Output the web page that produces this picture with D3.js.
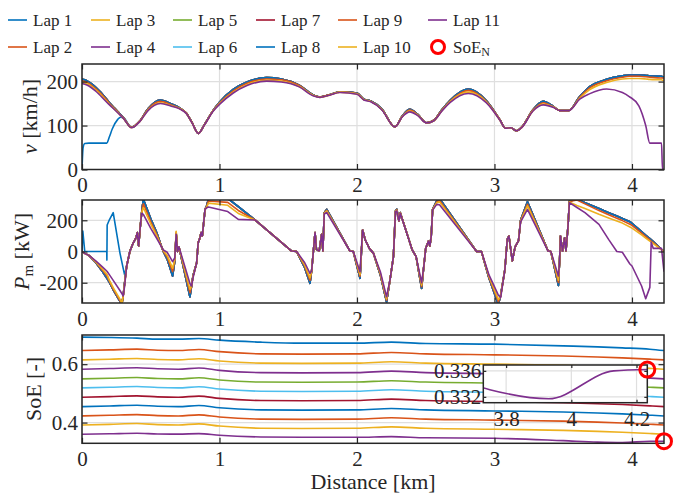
<!DOCTYPE html>
<html>
<head>
<meta charset="utf-8">
<title>Lap profiles: speed, power, SoE</title>
<style>
    body { margin: 0; background: #fff; }
    svg, svg text { font-family: "Liberation Serif", "DejaVu Serif", "Times New Roman", serif; }
    .grid line { stroke: #dfdfdf; stroke-width: 1.2; }
    .frame { fill: none; stroke: #262626; stroke-width: 1.5; }
    .lap { fill: none; stroke-width: 1.6; stroke-linejoin: round; }
    .marker { fill: none; stroke: #ff0000; stroke-width: 3; }
    .axlabel { font-size: 22px; fill: #262626; }
    .legend text { font-size: 17px; fill: #262626; }
</style>
</head>
<body>
<script src="https://cdn.jsdelivr.net/npm/d3@7"></script>
<script>

// ---- data ----
var lapNames = ["Lap 1","Lap 2","Lap 3","Lap 4","Lap 5","Lap 6","Lap 7","Lap 8","Lap 9","Lap 10","Lap 11"];

var xTicks = [0, 1, 2, 3, 4];
var vTicks = [0, 100, 200];
var pTicks = [-200, 0, 200];
var soeTicks = [0.4, 0.6];
var insetXTicks = [3.8, 4, 4.2];
var insetYTicks = [0.332, 0.336];

// speed [km/h]
var vDist = [0, 0.008, 0.02, 0.05, 0.1, 0.18, 0.2, 0.22, 0.26, 0.28, 0.3, 0.36, 0.42, 0.48, 0.57, 0.65, 0.71, 0.76, 0.8, 0.846,
    0.89, 0.955, 1.0, 1.1, 1.2, 1.343, 1.45, 1.58, 1.68, 1.73, 1.8, 1.876, 2.0, 2.05, 2.1, 2.18, 2.276, 2.33, 2.385, 2.44,
    2.507, 2.56, 2.62, 2.676, 2.81, 2.94, 3.04, 3.08, 3.12, 3.16, 3.2, 3.28, 3.355, 3.43, 3.476, 3.54, 3.62, 3.69, 3.816, 3.93,
    3.98, 4.05, 4.1, 4.13, 4.215, 4.222, 4.233];
var vLap1Start = [0, 50, 59, 60, 60, 60, 75, 92, 114, 119, 118];
var vLaps2to8 = [206, 205, 204, 199, 187, 160, 152, 145, 132, 125, 118, 96, 110, 138, 158, 149, 140, 128, 107, 82,
    102, 135, 153, 182, 199, 209, 206, 192, 170, 165, 170, 177, 174, 160, 156, 138, 97, 122, 137, 126,
    106, 112, 137, 157, 183, 157, 113, 94, 95, 88, 97, 136, 155, 143, 134, 134, 166, 188, 205, 213,
    215, 215, 214, 213, 212, 211, 211];
var vLap9 = [203, 201, 200, 196, 184, 158, 150, 144, 131, 124, 118, 96, 110, 137, 155, 147, 139, 128, 107, 82,
    102, 134, 151, 179, 196, 206, 204, 191, 169, 165, 170, 176, 173, 159, 155, 137, 97, 121, 135, 125,
    106, 112, 136, 155, 180, 155, 113, 94, 95, 88, 97, 135, 152, 142, 134, 134, 164, 185, 202, 210,
    212, 212, 211, 210, 208, 208, 207];
var vLap10 = [199, 198, 197, 193, 181, 155, 148, 142, 130, 123, 117, 95, 109, 135, 152, 145, 139, 127, 106, 82,
    101, 134, 150, 176, 193, 203, 201, 189, 169, 164, 169, 176, 172, 159, 155, 137, 97, 121, 133, 124,
    106, 111, 135, 154, 176, 154, 112, 94, 95, 88, 96, 134, 149, 142, 134, 134, 162, 181, 198, 206,
    207, 207, 206, 205, 204, 203, 203];
var vLap11 = [196, 195, 194, 190, 178, 153, 147, 141, 129, 123, 117, 95, 109, 134, 150, 144, 138, 127, 106, 82,
    101, 133, 148, 174, 191, 201, 199, 188, 168, 164, 169, 175, 171, 158, 154, 136, 97, 120, 131, 123,
    106, 111, 134, 152, 173, 152, 112, 94, 95, 88, 96, 133, 147, 141, 134, 134, 160, 172, 183, 175,
    166, 145, 100, 60, 60, 0, 0];

// motor power [kW]
var pDist = [0, 0.006, 0.02, 0.05, 0.1, 0.15, 0.18, 0.181, 0.183, 0.2,
    0.227, 0.276, 0.29, 0.3, 0.31, 0.325, 0.349, 0.373, 0.393, 0.402,
    0.412, 0.422, 0.434, 0.446, 0.5, 0.543, 0.591, 0.62, 0.659, 0.675,
    0.685, 0.695, 0.705, 0.785, 0.797, 0.807, 0.834, 0.845, 0.858, 0.866,
    0.875, 0.895, 0.907, 0.92, 1.06, 1.137, 1.258, 1.525, 1.561, 1.62,
    1.658, 1.67, 1.695, 1.705, 1.725, 1.743, 1.752, 1.762, 1.78, 1.949,
    1.973, 2.022, 2.041, 2.06, 2.09, 2.12, 2.17, 2.215, 2.24, 2.265,
    2.28, 2.29, 2.305, 2.315, 2.4, 2.43, 2.47, 2.485, 2.5, 2.52,
    2.53, 2.54, 2.55, 2.58, 2.6, 2.87, 2.905, 2.96, 3.028, 3.045,
    3.076, 3.093, 3.105, 3.13, 3.15, 3.175, 3.19, 3.24, 3.39, 3.41,
    3.465, 3.473, 3.48, 3.495, 3.51, 3.52, 3.535, 3.545, 3.6, 3.658,
    3.76, 3.83, 3.89, 3.93, 3.985, 4.0, 4.07, 4.1, 4.13, 4.14,
    4.155, 4.215, 4.233];
var pLap1Start = [0, 131, 0, 0, 0, 0, 0, -55, 170, 205, 249, -10, -68, -110, -150];
var pLaps2to8 = [0, -4, -12, -25, -70, -130, -170, -171, -173, -200,
    -245, -320, -340, -280, -200, -93, 3, 56, 88, 121,
    35, 142, 249, 335, 210, 121, 0, -50, -157, -60,
    115, 0, 30, -290, -220, -157, -72, 56, 88, 121,
    100, 270, 292, 340, 340, 287, 202, 3, 0, -104,
    -204, -125, 121, 14, 3, 110, 3, 249, 270, 3,
    0, -172, 138, 74, 20, -12, -150, -322, -183, -33,
    260, 270, 196, 249, 14, -33, -236, -104, 20, 67,
    35, 99, 270, 324, 340, 0, 0, -170, -340, -280,
    -114, 78, 99, -60, 30, 70, 200, 318, 3, 0,
    -217, -72, 99, 3, 88, 3, 163, 323, 335, 313,
    275, 249, 227, 212, 191, 180, 127, 104, 82, 74,
    63, 14, 0];
var pLap9 = [0, -4, -12, -25, -67, -121, -156, -157, -159, -192,
    -240, -315, -338, -282, -206, -93, 3, 56, 88, 121,
    35, 142, 248, 306, 192, 110, 3, -37, -129, -54,
    125, 0, 30, -264, -220, -161, -72, 56, 88, 121,
    100, 270, 288, 324, 315, 263, 202, 3, 0, -94,
    -185, -125, 121, 14, 3, 110, 3, 246, 264, 3,
    0, -159, 138, 74, 20, -12, -144, -312, -183, -33,
    258, 267, 196, 248, 14, -33, -225, -104, 20, 67,
    35, 99, 268, 317, 328, 0, 0, -164, -322, -285,
    -114, 78, 99, -60, 30, 70, 197, 304, 3, 0,
    -199, -72, 99, 3, 88, 3, 163, 320, 330, 305,
    262, 236, 213, 198, 175, 168, 117, 96, 74, 67,
    57, 12, 0];
var pLap10 = [0, -4, -12, -25, -65, -113, -145, -146, -148, -185,
    -232, -305, -332, -283, -211, -93, 3, 56, 88, 121,
    35, 142, 247, 282, 176, 101, 6, -25, -107, -49,
    130, 0, 30, -243, -220, -164, -72, 56, 88, 121,
    100, 270, 285, 310, 296, 244, 202, 3, 0, -86,
    -169, -125, 121, 14, 3, 110, 3, 244, 259, 3,
    0, -148, 138, 74, 20, -12, -139, -304, -183, -33,
    257, 264, 196, 247, 14, -33, -216, -104, 20, 67,
    35, 99, 267, 312, 318, 0, 0, -159, -307, -288,
    -114, 78, 99, -60, 30, 70, 194, 292, 3, 0,
    -184, -72, 99, 3, 88, 3, 163, 317, 295, 275,
    238, 215, 195, 182, 157, 150, 106, 86, 66, 60,
    50, 10, 0];
var pLap11 = [0, -4, -12, -25, -60, -100, -125, -126, -128, -150,
    -185, -250, -270, -285, -220, -93, 3, 56, 88, 121,
    35, 142, 245, 238, 148, 85, 10, -5, -65, -40,
    110, 0, 30, -205, -221, -170, -72, 56, 88, 121,
    100, 270, 280, 285, 256, 206, 202, 3, 0, -72,
    -140, -125, 121, 14, 3, 110, 3, 240, 250, 3,
    0, -129, 138, 74, 20, -12, -130, -290, -183, -33,
    255, 260, 196, 245, 14, -33, -200, -104, 20, 67,
    35, 99, 265, 302, 300, 0, 0, -150, -280, -295,
    -114, 78, 99, -60, 30, 70, 190, 270, 3, 0,
    -157, -72, 99, 3, 88, 3, 163, 313, 282, 249,
    174, 78, 0, -5, -80, -93, -221, -302, -230, 60,
    20, 20, -130];

// state of energy [-]
var soeDist = [0, 0.2, 0.4, 0.55, 0.7, 0.85, 1.0, 1.3, 1.6, 2.0, 2.25, 2.5, 3.0, 3.5, 3.75, 3.93, 4.13, 4.233];
var soeLaps = [
    [0.6926, 0.6915, 0.6892, 0.6857, 0.6857, 0.6880, 0.6823, 0.6755, 0.6720, 0.6720, 0.6755, 0.6709, 0.6686, 0.6629, 0.6594, 0.6560, 0.6514, 0.6467],
    [0.6467, 0.6489, 0.6515, 0.6480, 0.6467, 0.6505, 0.6429, 0.6355, 0.6346, 0.6355, 0.6403, 0.6355, 0.6320, 0.6282, 0.6247, 0.6218, 0.6174, 0.6148],
    [0.6148, 0.6170, 0.6196, 0.6161, 0.6148, 0.6186, 0.6110, 0.6036, 0.6027, 0.6036, 0.6084, 0.6036, 0.6001, 0.5963, 0.5928, 0.5899, 0.5855, 0.5829],
    [0.5829, 0.5852, 0.5879, 0.5842, 0.5829, 0.5869, 0.5789, 0.5712, 0.5702, 0.5712, 0.5762, 0.5712, 0.5676, 0.5636, 0.5599, 0.5569, 0.5523, 0.5496],
    [0.5496, 0.5518, 0.5542, 0.5508, 0.5496, 0.5533, 0.5459, 0.5388, 0.5379, 0.5388, 0.5434, 0.5388, 0.5354, 0.5317, 0.5283, 0.5255, 0.5212, 0.5187],
    [0.5187, 0.5209, 0.5235, 0.5200, 0.5187, 0.5225, 0.5149, 0.5075, 0.5066, 0.5075, 0.5123, 0.5075, 0.5040, 0.5002, 0.4967, 0.4938, 0.4894, 0.4868],
    [0.4868, 0.4890, 0.4916, 0.4881, 0.4868, 0.4907, 0.4829, 0.4755, 0.4746, 0.4755, 0.4804, 0.4755, 0.4720, 0.4681, 0.4646, 0.4617, 0.4572, 0.4546],
    [0.4546, 0.4568, 0.4594, 0.4559, 0.4546, 0.4584, 0.4508, 0.4434, 0.4425, 0.4434, 0.4482, 0.4434, 0.4399, 0.4361, 0.4326, 0.4297, 0.4253, 0.4227],
    [0.4227, 0.4249, 0.4273, 0.4239, 0.4227, 0.4264, 0.4190, 0.4119, 0.4110, 0.4119, 0.4165, 0.4119, 0.4085, 0.4048, 0.4014, 0.3986, 0.3943, 0.3918],
    [0.3918, 0.3940, 0.3966, 0.3931, 0.3918, 0.3956, 0.3880, 0.3806, 0.3797, 0.3806, 0.3854, 0.3806, 0.3771, 0.3733, 0.3698, 0.3669, 0.3625, 0.3599],
    [0.3599, 0.3615, 0.3633, 0.3610, 0.3605, 0.3622, 0.3565, 0.3508, 0.3496, 0.3496, 0.3520, 0.3480, 0.3462, 0.3380, 0.3331, 0.3317, 0.3360, 0.3362]
];
var soeEnd = [4.233, 0.3362];

// laps 2..8 overlap in speed/power, lap 1 has its own standing start
var vLaps = [vLap1Start.concat(vLaps2to8.slice(vLap1Start.length)),
    vLaps2to8, vLaps2to8, vLaps2to8, vLaps2to8, vLaps2to8, vLaps2to8, vLaps2to8,
    vLap9, vLap10, vLap11];
var pLaps = [pLap1Start.concat(pLaps2to8.slice(pLap1Start.length)),
    pLaps2to8, pLaps2to8, pLaps2to8, pLaps2to8, pLaps2to8, pLaps2to8, pLaps2to8,
    pLap9, pLap10, pLap11];

// ---- layout / style ----
var W = 681, H = 495;
var left = 82, right = 664;
var serif = "Liberation Serif, DejaVu Serif, Times New Roman, serif";
var lapColors = ["#0072BD","#D95319","#EDB120","#7E2F8E","#77AC30","#4DBEEE","#A2142F",
                 "#0072BD","#D95319","#EDB120","#7E2F8E"];
var ink = "#262626";

var svg = d3.select("body").append("svg")
        .attr("width", W)
        .attr("height", H)
        .attr("font-family", serif);

var x = d3.scaleLinear().domain([0, 4.233]).range([left, right]);

function styleAxis(sel) {
    sel.select(".domain").remove();
    sel.attr("font-family", serif).attr("font-size", null);
    sel.selectAll(".tick line").attr("stroke", ink).attr("stroke-width", 1.2);
    sel.selectAll(".tick text").attr("fill", ink).attr("font-size", 21);
}

//draws one axes box with grid, lines, inward ticks on all four sides
function drawPanel(name, top, bottom, domain, yticks, yfmt, dist, series, curve) {
    var y = d3.scaleLinear().domain(domain).range([bottom, top]);
    var g = svg.append("g").attr("class", "panel-" + name);

    svg.append("clipPath").attr("id", "clip-" + name)
        .append("rect")
        .attr("x", left).attr("y", top)
        .attr("width", right - left).attr("height", bottom - top);

    var grid = g.append("g").attr("class", "grid");
    grid.selectAll(".gx").data(xTicks).enter().append("line")
        .attr("x1", d => x(d)).attr("x2", d => x(d))
        .attr("y1", top).attr("y2", bottom);
    grid.selectAll(".gy").data(yticks).enter().append("line")
        .attr("x1", left).attr("x2", right)
        .attr("y1", d => y(d)).attr("y2", d => y(d));

    var line = d3.line()
        .x((d, i) => x(dist[i]))
        .y(d => y(d))
        .curve(curve);
    g.append("g").attr("clip-path", "url(#clip-" + name + ")")
        .selectAll("path").data(series).enter().append("path")
        .attr("class", "lap")
        .attr("stroke", (d, i) => lapColors[i])
        .attr("d", line);

    g.append("g").attr("transform", "translate(0," + bottom + ")")
        .call(d3.axisBottom(x).tickValues(xTicks).tickSize(-5.5).tickPadding(8).tickFormat(d => String(d)))
        .call(styleAxis);
    g.append("g").attr("transform", "translate(0," + top + ")")
        .call(d3.axisTop(x).tickValues(xTicks).tickSize(-5.5).tickFormat(""))
        .call(styleAxis);
    g.append("g").attr("transform", "translate(" + left + ",0)")
        .call(d3.axisLeft(y).tickValues(yticks).tickSize(-5.5).tickPadding(4).tickFormat(yfmt))
        .call(styleAxis);
    g.append("g").attr("transform", "translate(" + right + ",0)")
        .call(d3.axisRight(y).tickValues(yticks).tickSize(-5.5).tickFormat(""))
        .call(styleAxis);

    g.append("rect").attr("class", "frame")
        .attr("x", left).attr("y", top)
        .attr("width", right - left).attr("height", bottom - top);
    return y;
}

var ySpeed = drawPanel("v", 64, 169.5, [0, 240], vTicks, d => String(d), vDist, vLaps, d3.curveMonotoneX);
var yPower = drawPanel("p", 200, 303, [-330, 330], pTicks, d => String(d), pDist, pLaps, d3.curveLinear);
var ySoe = drawPanel("soe", 335, 443.3, [0.329, 0.700], soeTicks, d => d.toFixed(1), soeDist, soeLaps, d3.curveMonotoneX);

// end-of-race SoE marker
svg.append("circle").attr("class", "marker")
    .attr("cx", x(soeEnd[0])).attr("cy", ySoe(soeEnd[1])).attr("r", 7.5);

// y labels
var lv = svg.append("text").attr("class", "axlabel")
    .attr("text-anchor", "middle")
    .attr("transform", "translate(37,116.5) rotate(-90)");
lv.append("tspan").attr("font-style", "italic").text("v");
lv.append("tspan").text(" [km/h]");

var lp = svg.append("text").attr("class", "axlabel")
    .attr("text-anchor", "middle")
    .attr("transform", "translate(29,251.5) rotate(-90)");
lp.append("tspan").attr("font-style", "italic").text("P");
lp.append("tspan").attr("font-size", 15).attr("dy", 4).text("m");
lp.append("tspan").attr("dy", -4).text(" [kW]");

svg.append("text").attr("class", "axlabel")
    .attr("text-anchor", "middle")
    .attr("transform", "translate(41,389) rotate(-90)")
    .text("SoE [-]");

svg.append("text").attr("class", "axlabel")
    .attr("text-anchor", "middle")
    .attr("x", (left + right) / 2).attr("y", 489)
    .text("Distance [km]");

// ---- inset zoom on the final lap end ----
var ix = d3.scaleLinear().domain([3.73, 4.233]).range([483.3, 647.3]);
var iy = d3.scaleLinear().domain([0.3311, 0.3369]).range([402.7, 365]);
var inset = svg.append("g").attr("class", "inset");
inset.append("rect")
    .attr("x", 483.3).attr("y", 365).attr("width", 164).attr("height", 37.7)
    .attr("fill", "#fff");
svg.append("clipPath").attr("id", "clip-inset")
    .append("rect")
    .attr("x", 483.3).attr("y", 365).attr("width", 164).attr("height", 37.7);
var igrid = inset.append("g").attr("class", "grid");
igrid.selectAll(".gx").data(insetXTicks).enter().append("line")
    .attr("x1", d => ix(d)).attr("x2", d => ix(d))
    .attr("y1", 365).attr("y2", 402.7);
igrid.selectAll(".gy").data(insetYTicks).enter().append("line")
    .attr("x1", 483.3).attr("x2", 647.3)
    .attr("y1", d => iy(d)).attr("y2", d => iy(d));

var iline = d3.line()
    .x((d, i) => ix(soeDist[i]))
    .y(d => iy(d))
    .curve(d3.curveMonotoneX);
inset.append("g").attr("clip-path", "url(#clip-inset)")
    .selectAll("path").data(soeLaps).enter().append("path")
    .attr("class", "lap")
    .attr("stroke", (d, i) => lapColors[i])
    .attr("d", iline);

inset.append("g").attr("transform", "translate(0,402.7)")
    .call(d3.axisBottom(ix).tickValues(insetXTicks).tickSize(-3).tickPadding(8).tickFormat(d => String(d)))
    .call(styleAxis);
inset.append("g").attr("transform", "translate(0,365)")
    .call(d3.axisTop(ix).tickValues(insetXTicks).tickSize(-3).tickFormat(""))
    .call(styleAxis);
inset.append("g").attr("transform", "translate(483.3,0)")
    .call(d3.axisLeft(iy).tickValues(insetYTicks).tickSize(-3).tickPadding(2).tickFormat(d => d.toFixed(3)))
    .call(styleAxis);
inset.append("g").attr("transform", "translate(647.3,0)")
    .call(d3.axisRight(iy).tickValues(insetYTicks).tickSize(-3).tickFormat(""))
    .call(styleAxis);
inset.append("rect").attr("class", "frame")
    .attr("x", 483.3).attr("y", 365).attr("width", 164).attr("height", 37.7);
inset.append("circle").attr("class", "marker")
    .attr("cx", ix(soeEnd[0])).attr("cy", iy(soeEnd[1])).attr("r", 7.5);

// ---- legend: 6 columns x 2 rows, column-major ----
var legendColX = [8, 91, 173, 256, 338, 428];
var legendRowY = [20, 47];
var legend = svg.append("g").attr("class", "legend");
lapNames.forEach(function(name, i) {
    var cx = legendColX[Math.floor(i / 2)], cy = legendRowY[i % 2];
    legend.append("line")
        .attr("x1", cx).attr("x2", cx + 19)
        .attr("y1", cy).attr("y2", cy)
        .attr("stroke", lapColors[i]).attr("stroke-width", 1.6);
    legend.append("text").attr("x", cx + 25).attr("y", cy + 6).text(name);
});
legend.append("circle").attr("class", "marker")
    .attr("cx", legendColX[5] + 10).attr("cy", legendRowY[1]).attr("r", 6.5);
var soeN = legend.append("text").attr("x", legendColX[5] + 25).attr("y", legendRowY[1] + 6);
soeN.append("tspan").text("SoE");
soeN.append("tspan").attr("font-size", 12).attr("dy", 3).text("N");

</script>
</body>
</html>
